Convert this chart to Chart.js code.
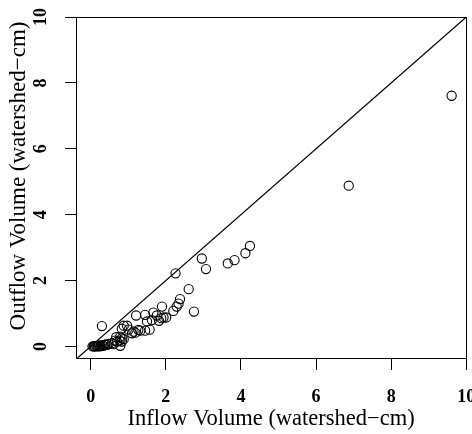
<!DOCTYPE html>
<html>
<head>
<meta charset="utf-8">
<script src="https://cdn.jsdelivr.net/npm/chart.js@4/dist/chart.umd.min.js"></script>
<style>
  html, body { margin: 0; padding: 0; background: #fff; }
</style>
</head>
<body>
<canvas id="c" width="472" height="434"></canvas>
<script>
// Inflow vs outflow volume per event (watershed-cm)
const inflowCm = [
  0.05, 0.08, 0.10, 0.12, 0.15, 0.18, 0.20, 0.22, 0.25, 0.28, 0.31, 0.34, 0.37, 0.40,
  0.44, 0.48, 0.57, 0.61, 0.65, 0.70, 0.68, 0.77, 0.79, 0.79, 0.83, 0.83, 0.88,
  0.30, 0.83, 0.88, 0.97, 1.01, 1.10, 1.19, 1.14, 1.21, 1.27, 1.32, 1.45, 1.45,
  1.50, 1.57, 1.63, 1.67, 1.76, 1.82, 1.88, 1.90, 1.94, 2.01, 2.20, 2.29, 2.34,
  2.38, 2.26, 2.61, 2.75, 2.96, 3.07, 3.65, 3.83, 4.12, 4.24, 6.87, 9.61
];
const outflowCm = [
  0.00, 0.00, 0.01, 0.00, 0.02, 0.00, 0.01, 0.03, 0.00, 0.02, 0.04, 0.02, 0.05, 0.06,
  0.05, 0.08, 0.10, 0.07, 0.18, 0.15, 0.28, 0.18, 0.02, 0.30, 0.25, 0.15, 0.22,
  0.62, 0.54, 0.63, 0.63, 0.51, 0.40, 0.42, 0.45, 0.94, 0.50, 0.48, 0.48, 0.96,
  0.76, 0.51, 0.80, 1.03, 0.94, 0.78, 0.86, 1.21, 0.88, 0.88, 1.08, 1.21, 1.30,
  1.44, 2.22, 1.74, 1.06, 2.67, 2.35, 2.52, 2.62, 2.83, 3.05, 4.88, 7.61
];
const xTicks = [0, 2, 4, 6, 8, 10];
const yTicks = [0, 2, 4, 6, 8, 10];
const xLimits = [-0.39, 10];
const yLimits = [-0.35, 10];
const oneToOne = [-0.4, 10];   // ends of the 1:1 line

const points = inflowCm.map((x, i) => ({ x, y: outflowCm[i] }));
const diag = oneToOne.map(v => ({ x: v, y: v }));

const serif = "'Liberation Serif', 'Times New Roman', serif";

// box round the plot region, like R's box()
const boxPlugin = {
  id: "box",
  afterDraw(chart) {
    const { ctx, chartArea: a } = chart;
    ctx.save();
    ctx.strokeStyle = "#000";
    ctx.lineWidth = 1;
    ctx.strokeRect(Math.round(a.left) + 0.5, Math.round(a.top) + 0.5,
      Math.round(a.right - a.left), Math.round(a.bottom - a.top));
    ctx.restore();
  }
};

function fixSize(prop, val) {
  return s => {
    s[prop] = val;
    s.paddingLeft = s.paddingRight = s.paddingTop = s.paddingBottom = 0;
  };
}

new Chart(document.getElementById("c"), {
  type: "scatter",
  data: {
    datasets: [
      {
        data: points,
        pointStyle: "circle",
        pointRadius: 4.6,
        pointBorderWidth: 1.1,
        pointBorderColor: "#000",
        pointBackgroundColor: "rgba(0,0,0,0)"
      },
      {
        type: "line",
        data: diag,
        showLine: true,
        pointRadius: 0,
        borderColor: "#000",
        borderWidth: 1.2
      }
    ]
  },
  options: {
    responsive: false,
    animation: false,
    devicePixelRatio: 1,
    layout: { padding: { top: 17, right: 5, left: 0, bottom: 0 } },
    plugins: { legend: { display: false }, tooltip: { enabled: false } },
    scales: {
      x: {
        type: "linear",
        min: xLimits[0], max: xLimits[1],
        afterBuildTicks: s => { s.ticks = xTicks.map(v => ({ value: v })); },
        afterFit: fixSize("height", 76),
        border: { display: false },
        grid: { drawOnChartArea: false, color: "#000", tickLength: 12, tickWidth: 1 },
        ticks: {
          color: "#000", padding: 17, maxRotation: 0,
          font: { family: serif, size: 18, weight: "bold" }
        },
        title: {
          display: true, text: "Inflow Volume (watershed\u2212cm)", color: "#000",
          font: { family: serif, size: 22.5 }, padding: { top: 0, bottom: 1 }
        }
      },
      y: {
        type: "linear",
        min: yLimits[0], max: yLimits[1],
        afterBuildTicks: s => { s.ticks = yTicks.map(v => ({ value: v })); },
        afterFit: fixSize("width", 76),
        border: { display: false },
        grid: { drawOnChartArea: false, color: "#000", tickLength: 11, tickWidth: 1 },
        ticks: {
          color: "#000", padding: 15, minRotation: 90, maxRotation: 90, crossAlign: "center",
          font: { family: serif, size: 18, weight: "bold" }
        },
        title: {
          display: true,
          // leading no-break spaces nudge the title up, as in the original
          text: "\u00a0\u00a0\u00a0\u00a0Outflow Volume (watershed\u2212cm)", color: "#000",
          font: { family: serif, size: 23 }, padding: { top: 5, bottom: 0 }
        }
      }
    }
  },
  plugins: [boxPlugin]
});
</script>
</body>
</html>
